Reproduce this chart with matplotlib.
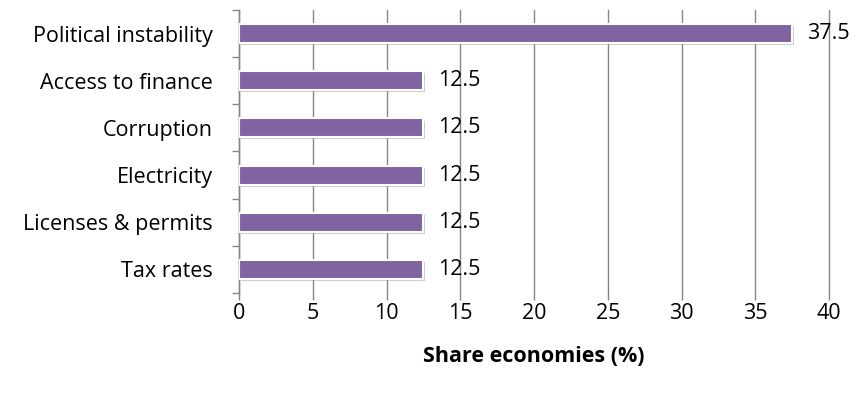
import matplotlib
matplotlib.use("Agg")
import matplotlib.pyplot as plt
import matplotlib.patheffects as pe

categories = ["Political instability", "Access to finance", "Corruption",
              "Electricity", "Licenses & permits", "Tax rates"]
values = [37.5, 12.5, 12.5, 12.5, 12.5, 12.5]
xticks = [0, 5, 10, 15, 20, 25, 30, 35, 40]

plt.rcParams['font.family'] = ['Open Sans', 'DejaVu Sans']
FS = 15.5

fig = plt.figure(figsize=(8.61, 4.04), dpi=100)
ax = fig.add_axes([239/861, 1-293/404, 590/861, 283/404])

ypos = list(range(len(categories)))[::-1]
bars = ax.barh(ypos, values, height=0.4, color="#8064A2", edgecolor="white",
               linewidth=1.5, zorder=3)
for b in bars:
    b.set_path_effects([pe.SimplePatchShadow(offset=(1.5, -1.5), shadow_rgbFace="#999999", alpha=0.5),
                        pe.Normal()])
for y, v in zip(ypos, values):
    ax.text(v + 1.0, y, f"{v:g}", va="center", ha="left", fontsize=FS, color="black", zorder=4)

ax.set_xlim(0, 40)
ax.set_ylim(-0.5, len(categories) - 0.5)
ax.set_xticks(xticks)
ax.set_xticklabels([str(t) for t in xticks], fontsize=FS)
ax.set_yticks(ypos)
ax.set_yticklabels(categories, fontsize=FS)
ax.set_yticks([i - 0.5 for i in range(len(categories) + 1)], minor=True)
ax.tick_params(axis="y", which="major", length=0, pad=19)
ax.tick_params(axis="y", which="minor", length=5, color="#868686", width=1)
ax.tick_params(axis="x", length=5, color="#868686", width=1, pad=2)
ax.grid(axis="x", color="#868686", linewidth=1, zorder=0)
for gl in ax.get_xgridlines():
    gl.set_clip_on(False)
ax.set_axisbelow(True)
for s in ["top", "right", "bottom"]:
    ax.spines[s].set_visible(False)
ax.spines["left"].set_color("#868686")
ax.spines["left"].set_linewidth(1)
ax.set_xlabel("Share economies (%)", fontsize=FS, fontweight="bold", labelpad=16)

fig.savefig("out.png", dpi=100)
